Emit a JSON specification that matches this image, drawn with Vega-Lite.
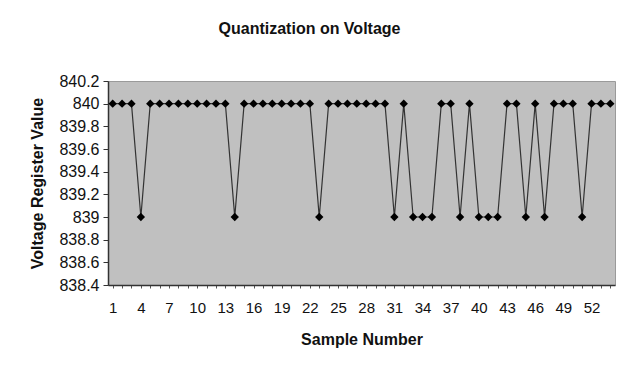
{
  "$schema": "https://vega.github.io/schema/vega-lite/v6.json",
  "autosize": {"type": "none"},
  "width": 507,
  "height": 204,
  "padding": {"left": 108, "top": 81, "right": 12, "bottom": 84},
  "background": "white",
  "title": {
    "text": "Quantization on Voltage",
    "font": "Liberation Sans",
    "fontSize": 16,
    "fontWeight": "bold",
    "color": "#111",
    "anchor": "middle",
    "frame": "group",
    "dx": -52,
    "offset": 36
  },
  "config": {
    "view": {"fill": "#c0c0c0", "stroke": "#9a9a9a", "strokeWidth": 1},
    "axis": {
      "labelFont": "Liberation Sans",
      "labelFontSize": 15,
      "labelColor": "#111",
      "titleFont": "Liberation Sans",
      "titleFontSize": 16,
      "titleFontWeight": "bold",
      "titleColor": "#111",
      "domainColor": "#333",
      "domainWidth": 1.5,
      "grid": false
    }
  },
  "data": {
    "values": [
      {"sample": 1, "value": 840}, {"sample": 2, "value": 840}, {"sample": 3, "value": 840},
      {"sample": 4, "value": 839}, {"sample": 5, "value": 840}, {"sample": 6, "value": 840},
      {"sample": 7, "value": 840}, {"sample": 8, "value": 840}, {"sample": 9, "value": 840},
      {"sample": 10, "value": 840}, {"sample": 11, "value": 840}, {"sample": 12, "value": 840},
      {"sample": 13, "value": 840}, {"sample": 14, "value": 839}, {"sample": 15, "value": 840},
      {"sample": 16, "value": 840}, {"sample": 17, "value": 840}, {"sample": 18, "value": 840},
      {"sample": 19, "value": 840}, {"sample": 20, "value": 840}, {"sample": 21, "value": 840},
      {"sample": 22, "value": 840}, {"sample": 23, "value": 839}, {"sample": 24, "value": 840},
      {"sample": 25, "value": 840}, {"sample": 26, "value": 840}, {"sample": 27, "value": 840},
      {"sample": 28, "value": 840}, {"sample": 29, "value": 840}, {"sample": 30, "value": 840},
      {"sample": 31, "value": 839}, {"sample": 32, "value": 840}, {"sample": 33, "value": 839},
      {"sample": 34, "value": 839}, {"sample": 35, "value": 839}, {"sample": 36, "value": 840},
      {"sample": 37, "value": 840}, {"sample": 38, "value": 839}, {"sample": 39, "value": 840},
      {"sample": 40, "value": 839}, {"sample": 41, "value": 839}, {"sample": 42, "value": 839},
      {"sample": 43, "value": 840}, {"sample": 44, "value": 840}, {"sample": 45, "value": 839},
      {"sample": 46, "value": 840}, {"sample": 47, "value": 839}, {"sample": 48, "value": 840},
      {"sample": 49, "value": 840}, {"sample": 50, "value": 840}, {"sample": 51, "value": 839},
      {"sample": 52, "value": 840}, {"sample": 53, "value": 840}, {"sample": 54, "value": 840}
    ]
  },
  "mark": {
    "type": "line",
    "color": "#333",
    "strokeWidth": 1.2,
    "point": {"shape": "diamond", "size": 70, "color": "#000", "filled": true, "opacity": 1}
  },
  "encoding": {
    "x": {
      "field": "sample",
      "type": "ordinal",
      "scale": {"type": "point", "padding": 0.5},
      "axis": {
        "title": "Sample Number",
        "labelAngle": 0,
        "labelOverlap": false,
        "labelExpr": "(datum.value - 1) % 3 == 0 ? datum.label : ''",
        "tickSize": 3,
        "tickColor": "#555",
        "labelPadding": 12,
        "titlePadding": 16
      }
    },
    "y": {
      "field": "value",
      "type": "quantitative",
      "scale": {"domain": [838.4, 840.2], "zero": false, "nice": false},
      "axis": {
        "title": "Voltage Register Value",
        "values": [838.4, 838.6, 838.8, 839, 839.2, 839.4, 839.6, 839.8, 840, 840.2],
        "format": ".1~f",
        "labelFontSize": 16,
        "tickSize": 5,
        "tickColor": "#333",
        "labelPadding": 4,
        "titlePadding": 13
      }
    }
  }
}
